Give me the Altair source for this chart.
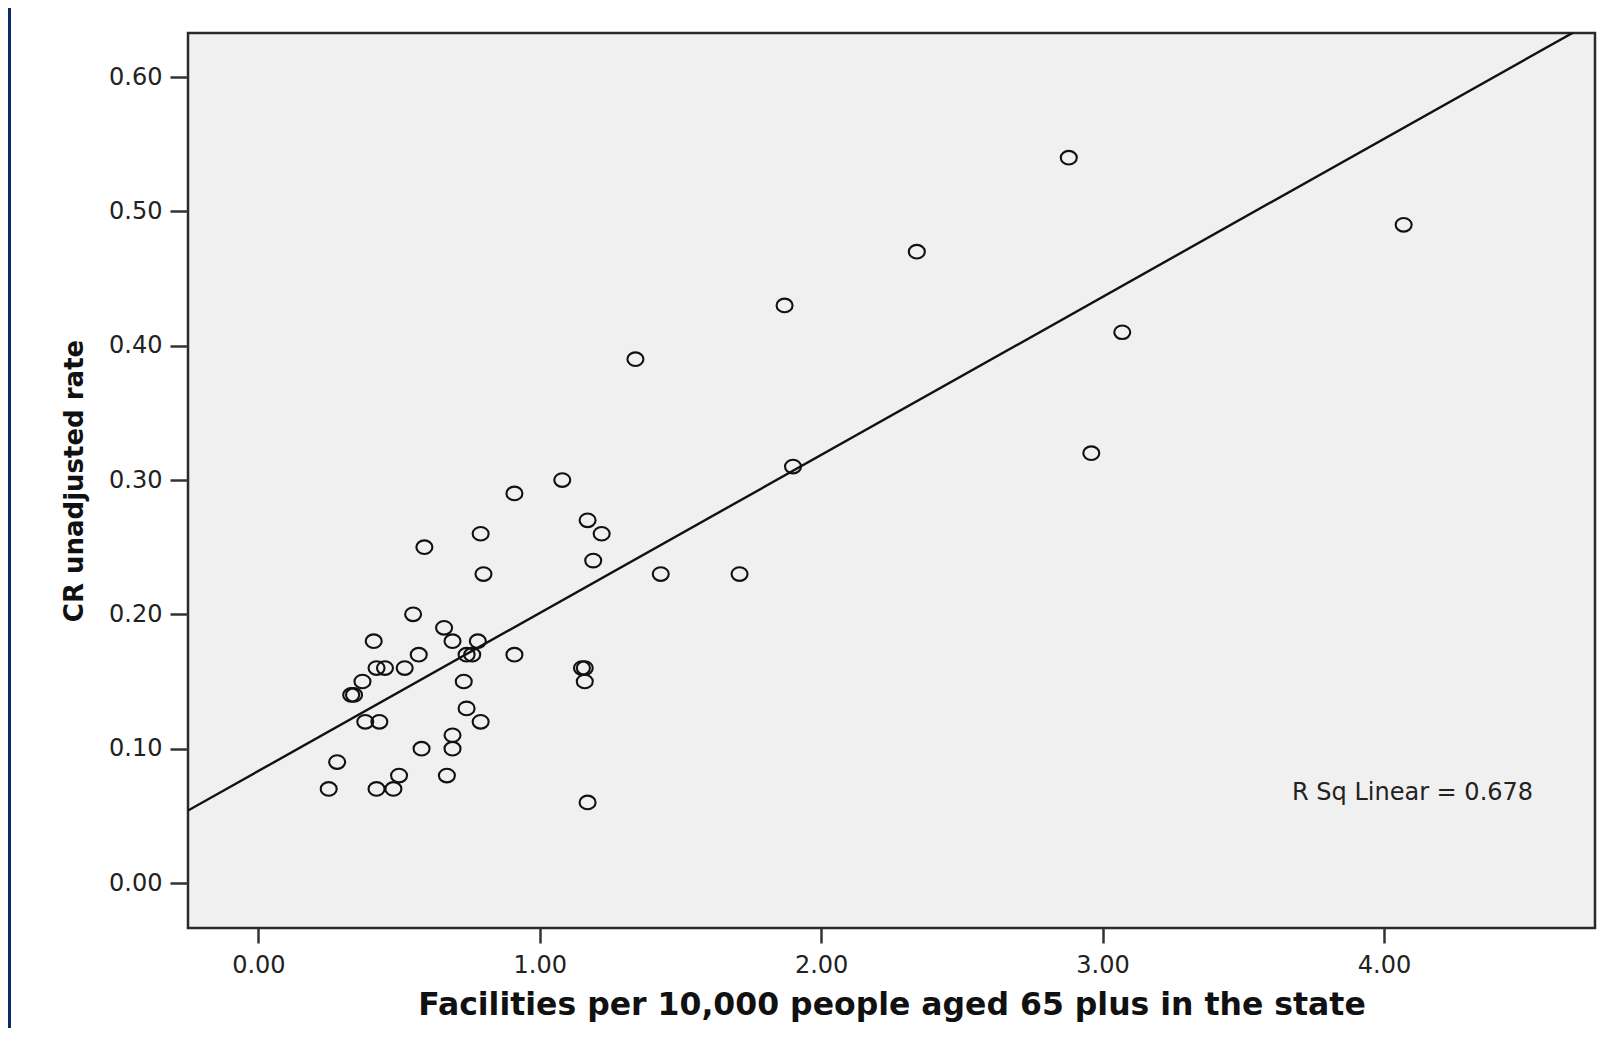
import altair as alt
import pandas as pd

# Facilities per 10,000 people aged 65+ (x) and CR unadjusted rate (y), one point per state
facilities = [2.88, 4.07, 2.34, 1.87, 3.07, 1.34, 2.96, 1.90, 1.08, 0.91,
              1.17, 0.79, 1.22, 0.59, 1.19, 0.80, 1.43, 1.71, 0.55, 0.66,
              0.41, 0.69, 0.78, 0.57, 0.74, 0.76, 0.91, 0.42, 0.45, 0.52,
              1.15, 1.16, 0.37, 0.73, 1.16, 0.33, 0.34, 0.38, 0.43, 0.79,
              0.74, 0.69, 0.58, 0.69, 0.28, 0.50, 0.67, 0.25, 0.42, 0.48,
              1.17]
cr_rate = [0.54, 0.49, 0.47, 0.43, 0.41, 0.39, 0.32, 0.31, 0.30, 0.29,
           0.27, 0.26, 0.26, 0.25, 0.24, 0.23, 0.23, 0.23, 0.20, 0.19,
           0.18, 0.18, 0.18, 0.17, 0.17, 0.17, 0.17, 0.16, 0.16, 0.16,
           0.16, 0.16, 0.15, 0.15, 0.15, 0.14, 0.14, 0.12, 0.12, 0.12,
           0.13, 0.11, 0.10, 0.10, 0.09, 0.08, 0.08, 0.07, 0.07, 0.07,
           0.06]

x_ticks = [0, 1, 2, 3, 4]
y_ticks = [0.0, 0.1, 0.2, 0.3, 0.4, 0.5, 0.6]
x_domain = [-0.25, 4.75]
y_domain = [-0.0335, 0.6328]
r_sq_label = "R Sq Linear = 0.678"

df = pd.DataFrame({"x": facilities, "y": cr_rate})

FONT = "DejaVu Sans"
W, H = 1407, 895

x_enc = alt.X(
    "x:Q",
    scale=alt.Scale(domain=x_domain, nice=False, zero=False),
    axis=alt.Axis(
        values=x_ticks, format=".2f", grid=False, domain=False,
        tickSize=15, tickWidth=2.5, tickColor="#333333",
        labelFont=FONT, labelFontSize=24, labelColor="#222222", labelPadding=10,
        title="Facilities per 10,000 people aged 65 plus in the state",
        titleFont=FONT, titleFontWeight="bold", titleFontSize=31.5, titleColor="#111111",
        titleBaseline="alphabetic", titleY=86, titleX=W / 2,
    ),
)
y_enc = alt.Y(
    "y:Q",
    scale=alt.Scale(domain=y_domain, nice=False, zero=False),
    axis=alt.Axis(
        values=y_ticks, format=".2f", grid=False, domain=False,
        tickSize=18, tickWidth=2.5, tickColor="#333333",
        labelFont=FONT, labelFontSize=24, labelColor="#222222", labelPadding=8,
        title="CR unadjusted rate",
        titleFont=FONT, titleFontWeight="bold", titleFontSize=26, titleColor="#111111",
        titleAngle=270, titleAlign="center", titleBaseline="middle",
        titleX=-114, titleY=H / 2,
    ),
)

ellipse = "M-1,0A1,0.85,0,1,1,1,0A1,0.85,0,1,1,-1,0Z"

points = alt.Chart(df).mark_point(
    shape=ellipse, filled=False, stroke="#111111", strokeWidth=2.1,
    size=256, opacity=1,
).encode(x=x_enc, y=y_enc)

fit = alt.Chart(df).transform_regression(
    "x", "y", method="linear", extent=x_domain
).mark_line(color="#111111", strokeWidth=2.4, clip=True).encode(
    x=alt.X("x:Q"), y=alt.Y("y:Q")
)

label = alt.Chart(pd.DataFrame({"t": [r_sq_label]})).mark_text(
    font=FONT, fontSize=24, color="#222222", align="left", baseline="alphabetic"
).encode(x=alt.value(1104), y=alt.value(767), text="t:N")

border = alt.Chart(pd.DataFrame({"a": [0]})).mark_rect(color="#0a2a64").encode(
    x=alt.value(-180), x2=alt.value(-177), y=alt.value(-25), y2=alt.value(995)
)

chart = alt.layer(border, points, fit, label).properties(
    width=W, height=H,
    padding={"left": 180, "top": 25, "right": 5, "bottom": 100},
    autosize=alt.AutoSizeParams(type="none"),
    background="#ffffff",
).configure_view(
    fill="#f0f0f0", stroke="#2a2a2a", strokeWidth=2.5
)

chart.save("out.html", embed_options={"renderer": "svg", "actions": False})
